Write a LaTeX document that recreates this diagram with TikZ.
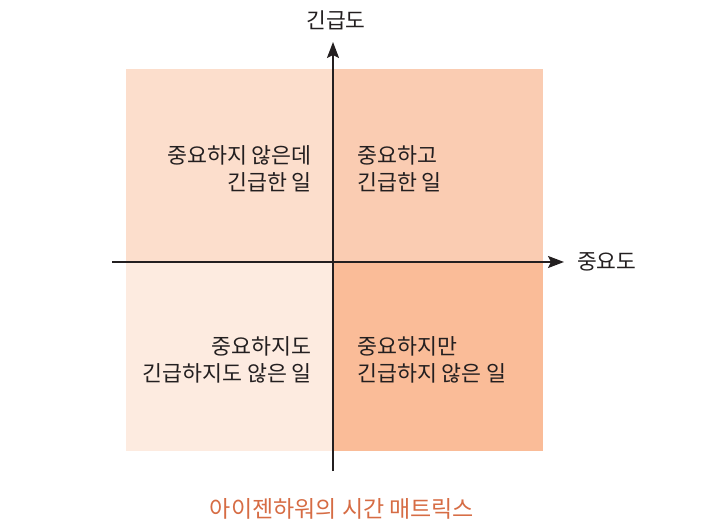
\documentclass[tikz,border=0pt]{standalone}
\usepackage{fontspec}
\setmainfont{Noto Sans CJK KR}
\usetikzlibrary{arrows.meta}
\definecolor{qTL}{RGB}{252,222,204}
\definecolor{qTR}{RGB}{250,204,178}
\definecolor{qBL}{RGB}{253,235,224}
\definecolor{qBR}{RGB}{250,188,152}
\definecolor{capc}{RGB}{214,108,68}
\definecolor{txt}{RGB}{35,31,32}
\tikzset{
  axis/.style={line width=2pt, draw=txt, -{Stealth[length=16pt,width=12pt,inset=3pt]}},
  qtext/.style={font=\fontsize{21.7}{27}\selectfont, text=txt, inner sep=0pt},
  lbl/.style={font=\fontsize{21.5}{24}\selectfont, text=txt, inner sep=0pt}
}
\begin{document}
\begin{tikzpicture}[x=1pt,y=-1pt]
\useasboundingbox (0,0) rectangle (720,526);
\fill[qTL] (126,69) rectangle (333,262);
\fill[qTR] (333,69) rectangle (543,262);
\fill[qBL] (126,262) rectangle (333,451);
\fill[qBR] (333,262) rectangle (543,451);
\coordinate (vb) at (333,471);
\coordinate (vt) at (333,42);
\coordinate (hl) at (112,262);
\coordinate (hr) at (564,262);
\draw[axis] (vb) -- (vt);
\draw[axis] (hl) -- (hr);
\node[lbl] (ylab) at (336,20) {긴급도};
\node[lbl, anchor=west] (xlab) at (577,262) {중요도};
\node[qtext, anchor=east, align=right] (tl) at (312,169) {중요하지 않은데\\긴급한 일};
\node[qtext, anchor=west, align=left] (tr) at (357,169) {중요하고\\긴급한 일};
\node[qtext, anchor=east, align=right] (bl) at (312,360) {중요하지도\\긴급하지도 않은 일};
\node[qtext, anchor=west, align=left] (br) at (357,360) {중요하지만\\긴급하지 않은 일};
\node[lbl, text=capc, font=\fontsize{23}{26}\selectfont] (cap) at (342,509) {아이젠하워의 시간 매트릭스};
\end{tikzpicture}
\end{document}
